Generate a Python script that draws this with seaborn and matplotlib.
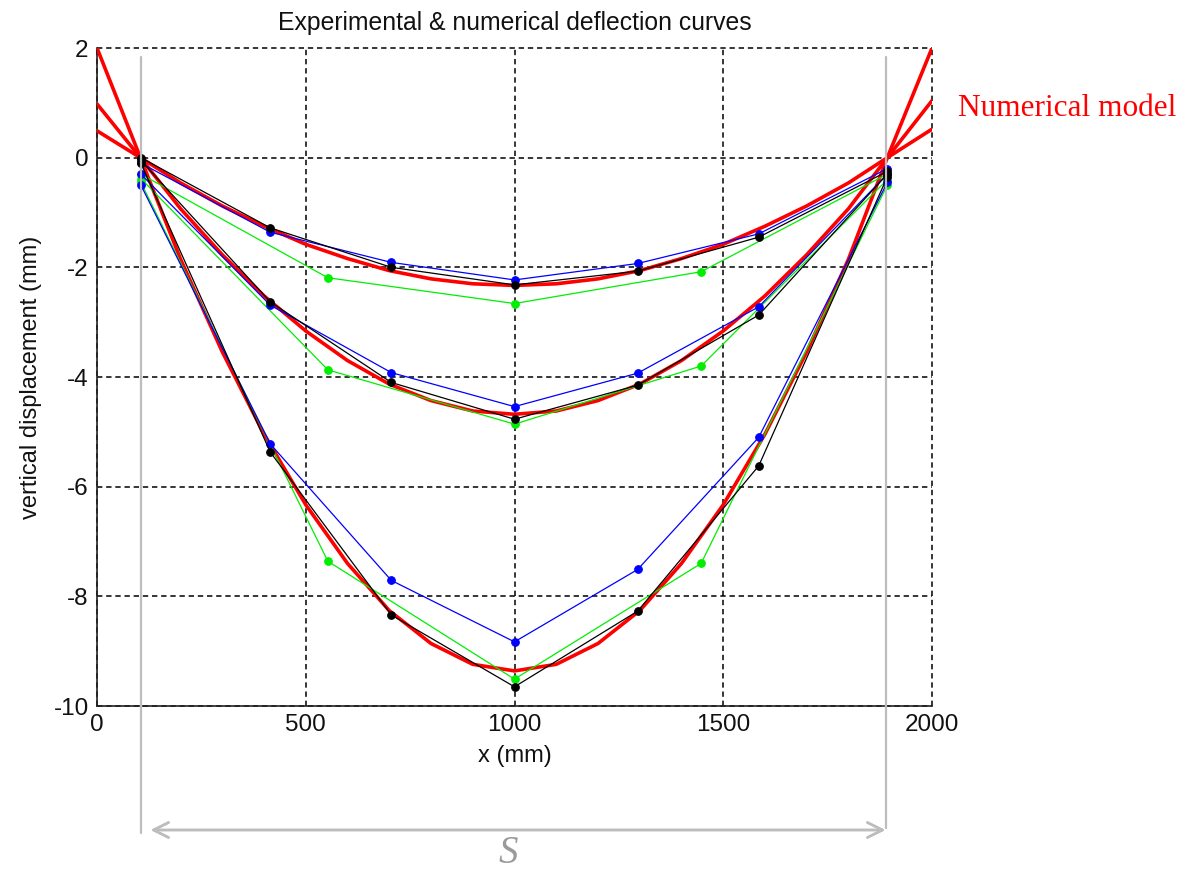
import matplotlib
matplotlib.use("Agg")
import matplotlib.pyplot as plt
from matplotlib.lines import Line2D
import pandas as pd
import seaborn as sns

# Numerical model: beam deflection along the specimen (three load levels)
x_model = [0, 104, 200, 300, 400, 500, 600, 700, 800, 900, 1000,
           1100, 1200, 1300, 1400, 1500, 1600, 1700, 1800, 1893, 2000]
model_low = [0.49, 0.0, -0.46, -0.88, -1.25, -1.58, -1.84, -2.06, -2.21, -2.30, -2.33,
             -2.30, -2.21, -2.06, -1.84, -1.58, -1.25, -0.88, -0.46, 0.0, 0.52]
model_mid = [0.98, 0.0, -0.93, -1.77, -2.52, -3.16, -3.70, -4.13, -4.43, -4.62, -4.68,
             -4.62, -4.43, -4.13, -3.70, -3.16, -2.52, -1.77, -0.93, 0.0, 1.04]
model_high = [2.0, 0.0, -1.85, -3.54, -5.04, -6.33, -7.40, -8.26, -8.86, -9.24, -9.36,
              -9.24, -8.86, -8.26, -7.40, -6.33, -5.04, -3.54, -1.85, 0.0, 2.0]

# Experimental readings (black and blue gauges)
x_gauge = [105, 415, 705, 1000, 1295, 1585, 1893]
black_low = [0.0, -1.28, -2.00, -2.32, -2.07, -1.45, -0.25]
black_mid = [-0.05, -2.63, -4.10, -4.77, -4.15, -2.87, -0.30]
black_high = [-0.10, -5.37, -8.34, -9.65, -8.27, -5.62, -0.35]
blue_low = [-0.10, -1.36, -1.91, -2.23, -1.93, -1.39, -0.20]
blue_mid = [-0.30, -2.69, -3.92, -4.54, -3.93, -2.72, -0.30]
blue_high = [-0.50, -5.22, -7.71, -8.83, -7.51, -5.10, -0.45]

# Experimental readings (green gauges)
x_green = [105, 553, 1000, 1447, 1893]
green_low = [-0.30, -2.19, -2.66, -2.08, -0.30]
green_mid = [-0.38, -3.87, -4.86, -3.80, -0.40]
green_high = [-0.45, -7.36, -9.51, -7.40, -0.50]

x_ticks = [0, 500, 1000, 1500, 2000]
y_ticks = [-10, -8, -6, -4, -2, 0, 2]

sns.set_theme(style="white")
plt.rcParams["font.family"] = ["Liberation Sans", "DejaVu Sans"]
plt.rcParams["axes.unicode_minus"] = False

fig = plt.figure(figsize=(11.84, 8.71), dpi=100)
ax = fig.add_axes([97 / 1184, 1 - 706 / 871, (932 - 97) / 1184, (706 - 48) / 871])

for yv in (model_low, model_mid, model_high):
    df = pd.DataFrame({"x": x_model, "w": yv})
    sns.lineplot(data=df, x="x", y="w", sort=False, color="#ff0000",
                 linewidth=2.6, ax=ax, zorder=3)

series = [(x_green, green_low, "#00ee00"), (x_green, green_mid, "#00ee00"),
          (x_green, green_high, "#00ee00"),
          (x_gauge, blue_low, "#0000ff"), (x_gauge, blue_mid, "#0000ff"),
          (x_gauge, blue_high, "#0000ff"),
          (x_gauge, black_low, "black"), (x_gauge, black_mid, "black"),
          (x_gauge, black_high, "black")]
for xs, ys, c in series:
    df = pd.DataFrame({"x": xs, "w": ys})
    sns.lineplot(data=df, x="x", y="w", sort=False, color=c, linewidth=0.9,
                 marker="o", markersize=5.5, markeredgecolor=c, ax=ax, zorder=4)

ax.set_xlim(0, 2000)
ax.set_ylim(-10, 2)
ax.set_xticks(x_ticks)
ax.set_yticks(y_ticks)
ax.grid(True, color="black", linestyle=(0, (3.5, 2.5)), linewidth=1.1)
ax.set_axisbelow(True)
# keep the dashed grid lines on the open top/right edges at full width
for gl in ax.get_xgridlines() + ax.get_ygridlines():
    gl.set_clip_on(False)
for s in ("top", "right"):
    ax.spines[s].set_visible(False)
for s in ("left", "bottom"):
    ax.spines[s].set_color("#222222")
    ax.spines[s].set_linewidth(1.2)
ax.tick_params(direction="in", length=6, width=1, colors="#222222",
               labelsize=17.5, labelcolor="#111111", pad=6)
ax.set_xlabel("x (mm)", fontsize=17, color="#111111", labelpad=6)
ax.set_ylabel("vertical displacement (mm)", fontsize=17, color="#111111", labelpad=8)
ax.set_title("Experimental & numerical deflection curves", fontsize=17.8,
             color="#111111", pad=13)

# Span annotation
gray = "#bdbdbd"
def fx(px):
    return px / 1184
def fy(py):
    return 1 - py / 871

fig.add_artist(Line2D([fx(140.5), fx(140.5)], [fy(57), fy(833)], color=gray, lw=1.6))
fig.add_artist(Line2D([fx(886), fx(886)], [fy(57), fy(828)], color=gray, lw=1.6))
fig.add_artist(plt.annotate("", xy=(fx(888), fy(830)), xytext=(fx(148), fy(830)),
                            xycoords="figure fraction", textcoords="figure fraction",
                            arrowprops=dict(arrowstyle="<->,head_length=0.9,head_width=0.45",
                                            color=gray, lw=1.8)))
fig.text(fx(508), fy(853), "S", fontsize=28, color="#9a9a9a", style="italic",
         family="Liberation Serif", ha="center", va="center")
fig.text(fx(958), fy(109), "Numerical model", fontsize=22.5, color="#ff0000",
         family="Liberation Serif", ha="left", va="center")

fig.savefig("out.png", dpi=100)
